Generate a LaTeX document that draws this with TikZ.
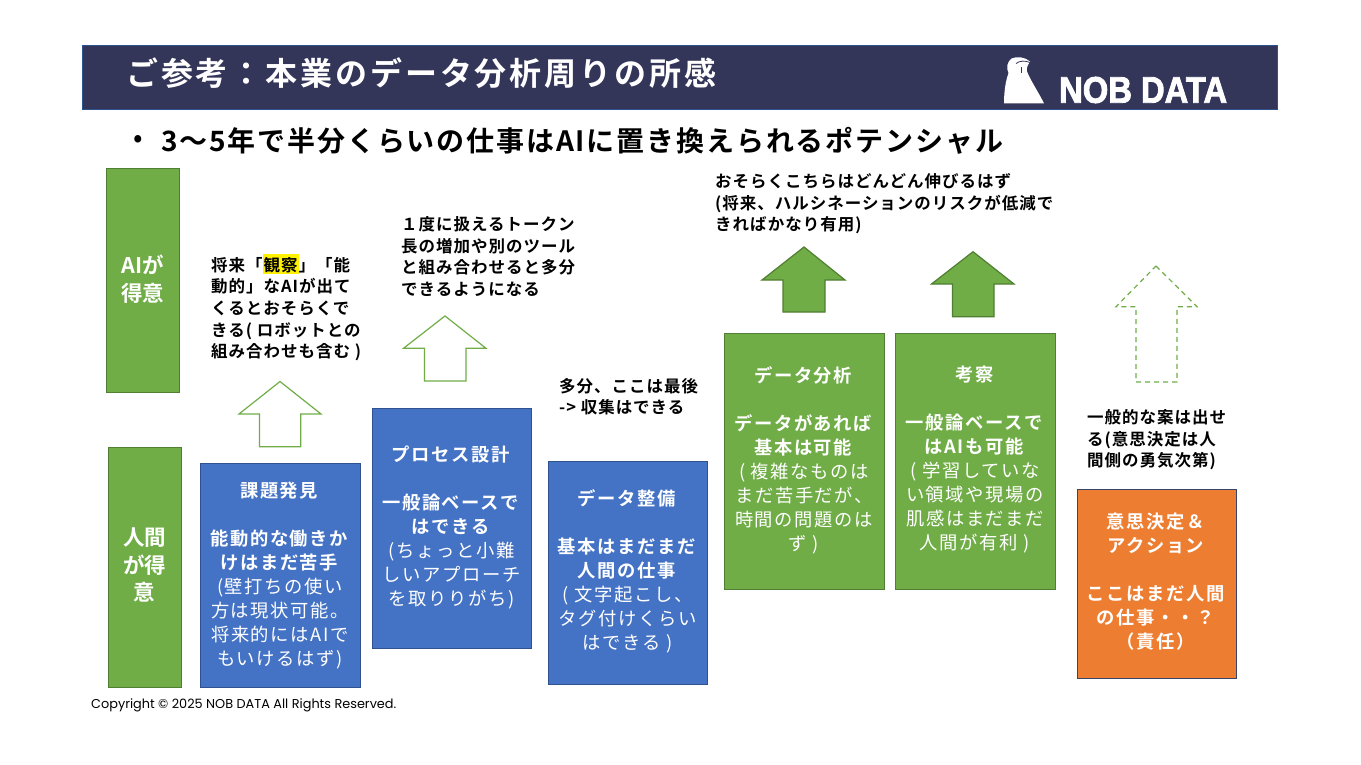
\documentclass[tikz,border=0pt]{standalone}
\usepackage{fontspec}
\setmainfont{Noto Sans CJK JP}[BoldFont={Noto Sans CJK JP Bold}]
\newfontfamily\spacedfont{Noto Sans CJK JP}[BoldFont={Noto Sans CJK JP Bold},LetterSpace=9]
\newfontfamily\notefont{Noto Sans CJK JP Bold}[LetterSpace=6]
\newfontfamily\titlefont{Noto Sans CJK JP Bold}[LetterSpace=9]
\newfontfamily\subfont{Noto Sans CJK JP Bold}[LetterSpace=6.6]
\newfontfamily\logofont{Liberation Sans Bold}[FakeBold=2.5]
\newfontfamily\copyfont{Poppins}
\definecolor{navy}{HTML}{333559}
\definecolor{navyline}{HTML}{2F528F}
\definecolor{bluebox}{HTML}{4472C4}
\definecolor{greenbox}{HTML}{70AD47}
\definecolor{greenline}{HTML}{507E32}
\definecolor{orangebox}{HTML}{ED7D31}
\definecolor{orangeline}{HTML}{3A4468}
\tikzset{
  card/.style={draw=#1,line width=1pt,inner sep=0pt,outer sep=0pt,anchor=north west},
  bluecard/.style={card=navyline,fill=bluebox},
  greencard/.style={card=greenline,fill=greenbox},
  orangecard/.style={card=orangeline,fill=orangebox},
  cardtext/.style={text=white,align=center,inner sep=0pt,font=\spacedfont\fontsize{18.3}{24}\selectfont},
  sidetext/.style={text=white,align=center,inner sep=0pt,font=\bfseries\fontsize{21.5}{27.5}\selectfont},
  note/.style={text=black,align=left,inner sep=0pt,anchor=north west,font=\notefont\fontsize{16.5}{21.6}\selectfont},
  hollowarrow/.style={draw=greenbox,line width=1.2pt,line join=miter,fill=white},
  solidarrow/.style={draw=greenline,line width=1.2pt,line join=miter,fill=greenbox},
  dasharrow/.style={draw=greenbox,line width=1.2pt,dash pattern=on 5pt off 4pt,fill=white},
}
\begin{document}
\begin{tikzpicture}[x=1pt,y=-1pt]
\useasboundingbox (0,0) rectangle (1361,765);
\fill[white] (0,0) rectangle (1361,765);
% header
\node[draw=navyline,fill=navy,line width=0.8pt,inner sep=0pt,outer sep=0pt,anchor=north west,minimum width=1195.5pt,minimum height=64pt] (header) at (82,45) {};
\node[anchor=west,text=white,inner sep=0pt,font=\titlefont\fontsize{32}{36}\selectfont] (title) at (126,73) {ご参考\symbol{"FF1A}本業のデータ分析周りの所感};
\fill[white] (1004,103.5) .. controls (1004,90) and (1006,80) .. (1008.5,73) .. controls (1006,68) and (1007,62) .. (1011.5,58.5) .. controls (1017,56) and (1025,57) .. (1030,61.5) -- (1027.5,66) .. controls (1026,70) and (1027,73) .. (1029,76) .. controls (1034,86) and (1040,95) .. (1044,103.5) -- cycle;
\draw[navy,line width=0.8pt] (1016,63.5) .. controls (1020,60.5) and (1025,60.5) .. (1030,62.5);
\draw[navy,line width=1.4pt] (1021.7,67) -- (1021.7,73);
\node[anchor=west,text=white,inner sep=0pt,xscale=.885,font=\logofont\fontsize{37}{40}\selectfont] (logo) at (1059,90) {NOB DATA};
% subtitle
\node[anchor=west,inner sep=0pt,font=\fontsize{28}{32}\selectfont] (bullet) at (133,141) {•};
\node[anchor=west,inner sep=0pt,font=\subfont\fontsize{28}{32}\selectfont] (subtitle) at (161,141) {3〜5年で半分くらいの仕事はAIに置き換えられるポテンシャル};
% side labels
\node[greencard,minimum width=73pt,minimum height=224pt] (aibox) at (106.3,168.3) {};
\node[sidetext] (ailabel) at (142.5,279) {AIが\\得意};
\node[greencard,minimum width=73pt,minimum height=240pt] (humanbox) at (108,447.3) {};
\node[sidetext] (humanlabel) at (144.5,565) {人間\\が得\\意};
% cards
\node[bluecard,minimum width=160pt,minimum height=224pt] (kadai) at (200.3,463.3) {};
\node[cardtext] (kadait) at (280,575.5) {\textbf{課題発見}\\[24pt]\textbf{能動的な働きか}\\\textbf{けはまだ苦手}\\(壁打ちの使い\\方は現状可能。\\将来的にはAIで\\もいけるはず)};
\node[bluecard,minimum width=159pt,minimum height=240pt] (process) at (372.3,408.3) {};
\node[cardtext] (processt) at (451.5,527.5) {\textbf{プロセス設計}\\[24pt]\textbf{一般論ベースで}\\\textbf{はできる}\\(ちょっと小難\\しいアプローチ\\を取りりがち)};
\node[bluecard,minimum width=159pt,minimum height=223pt] (seibi) at (548.3,461.3) {};
\node[cardtext] (seibit) at (627.5,571.5) {\textbf{データ整備}\\[24pt]\textbf{基本はまだまだ}\\\textbf{人間の仕事}\\( 文字起こし、\\タグ付けくらい\\はできる )};
\node[greencard,minimum width=160pt,minimum height=256pt] (bunseki) at (724.3,333.3) {};
\node[cardtext] (bunsekit) at (804,460) {\textbf{データ分析}\\[24pt]\textbf{データがあれば}\\\textbf{基本は可能}\\( 複雑なものは\\まだ苦手だが、\\時間の問題のは\\ず )};
\node[greencard,minimum width=160pt,minimum height=256pt] (kosatsu) at (895.3,333.3) {};
\node[cardtext] (kosatsut) at (975,460) {\textbf{考察}\\[24pt]\textbf{一般論ベースで}\\\textbf{はAIも可能}\\( 学習していな\\い領域や現場の\\肌感はまだまだ\\人間が有利 )};
\node[orangecard,minimum width=159pt,minimum height=189pt] (ishi) at (1077.3,489.3) {};
\node[cardtext] (ishit) at (1156.5,581.5) {\textbf{意思決定\symbol{"FF06}}\\\textbf{アクション}\\[24pt]\textbf{ここはまだ人間}\\\textbf{の仕事・・\symbol{"FF1F}}\\\textbf{\symbol{"FF08}責任\symbol{"FF09}}};
% arrows
\draw[hollowarrow] (280,381.5) -- (321,414) -- (300.7,414) -- (300.7,446.7) -- (259.5,446.7) -- (259.5,414) -- (239,414) -- cycle;
\draw[hollowarrow] (445,316) -- (486,348.3) -- (466,348.3) -- (466,381) -- (424.5,381) -- (424.5,348.3) -- (403.5,348.3) -- cycle;
\draw[solidarrow] (804,247) -- (845,280) -- (825,280) -- (825,312) -- (783,312) -- (783,280) -- (762,280) -- cycle;
\draw[solidarrow] (973,251.7) -- (1014,284) -- (994,284) -- (994,316.7) -- (952.5,316.7) -- (952.5,284) -- (931.5,284) -- cycle;
\draw[dasharrow] (1156,266) -- (1197,306.7) -- (1177,306.7) -- (1177,382) -- (1136,382) -- (1136,306.7) -- (1116,306.7) -- cycle;
% notes
\node[fill=yellow,inner sep=0pt,minimum width=36pt,minimum height=20pt,anchor=north west] (mark) at (263,253.5) {};
\node[note] (note1) at (211,257) {将来「観察」「能\\動的」なAIが出て\\くるとおそらくで\\きる( ロボットとの\\組み合わせも含む )};
\node[note] (note2) at (401,216.5) {\symbol{"FF11}度に扱えるトークン\\長の増加や別のツール\\と組み合わせると多分\\できるようになる};
\node[note] (note3) at (559,378) {多分、ここは最後\\-> 収集はできる};
\node[note] (note4) at (715,173.5) {おそらくこちらはどんどん伸びるはず\\(将来、ハルシネーションのリスクが低減で\\きればかなり有用)};
\node[note] (note5) at (1087,409.5) {一般的な案は出せ\\る(意思決定は人\\間側の勇気次第)};
% copyright
\node[anchor=west,inner sep=0pt,font=\copyfont\fontsize{12.85}{14}\selectfont] (copy) at (91,705.5) {Copyright © 2025 NOB DATA All Rights Reserved.};
\end{tikzpicture}
\end{document}
